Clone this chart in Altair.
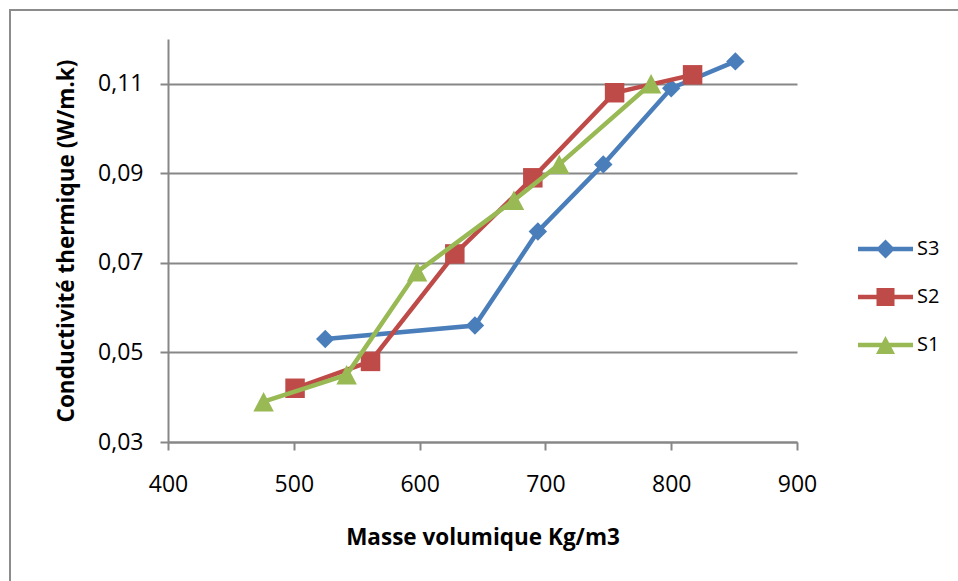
import altair as alt
import pandas as pd

# ---- data ----
series_names = ["S3", "S2", "S1"]
s3_x = [525, 644, 694, 746, 800, 851]
s3_y = [0.053, 0.056, 0.077, 0.092, 0.109, 0.115]
s2_x = [501, 561, 628, 690, 755, 817]
s2_y = [0.042, 0.048, 0.072, 0.089, 0.108, 0.112]
s1_x = [476, 542, 598, 675, 711, 784]
s1_y = [0.039, 0.045, 0.068, 0.084, 0.092, 0.110]

x_ticks = [400, 500, 600, 700, 800, 900]
y_ticks = [0.03, 0.05, 0.07, 0.09, 0.11]

colors = ["#4A7EBB", "#BE4B48", "#98B954"]
x_title = "Masse volumique Kg/m3"
y_title = "Conductivité thermique (W/m.k)"

FONT = "Open Sans"
GRAY = "#878787"

xs = {"S3": s3_x, "S2": s2_x, "S1": s1_x}
ys = {"S3": s3_y, "S2": s2_y, "S1": s1_y}

frames = []
for name in series_names:
    frames.append(pd.DataFrame({"x": xs[name], "y": ys[name], "series": name}))
df_all = pd.concat(frames, ignore_index=True)

x_enc = alt.X(
    "x:Q",
    scale=alt.Scale(domain=[400, 900], nice=False, zero=False),
    axis=alt.Axis(
        values=x_ticks, grid=False, title=x_title, labelFlush=False,
        domainColor=GRAY, domainWidth=2, tickColor=GRAY, tickWidth=2, tickSize=8,
        labelFont=FONT, labelFontSize=23, labelColor="#000000", labelPadding=23,
        titleFont=FONT, titleFontSize=22.5, titleFontWeight="bold", titleColor="#000000",
        titleY=102, titleBaseline="alphabetic",
    ),
)
y_enc = alt.Y(
    "y:Q",
    scale=alt.Scale(domain=[0.03, 0.12], nice=False, zero=False),
    axis=alt.Axis(
        values=y_ticks, grid=True, gridColor=GRAY, gridWidth=2, title=y_title,
        labelExpr="replace(format(datum.value, '.2f'), '.', ',')", labelFlush=False,
        domainColor=GRAY, domainWidth=2, tickColor=GRAY, tickWidth=2, tickSize=8,
        labelFont=FONT, labelFontSize=23, labelColor="#000000", labelPadding=17,
        titleFont=FONT, titleFontSize=22.5, titleFontWeight="bold", titleColor="#000000",
        titleX=-102, titleBaseline="middle",
    ),
)

marker_shape = {
    "S3": "diamond",
    "S2": "square",
    "S1": "M0,-0.95L1,0.95L-1,0.95Z",
}
marker_size = {"S3": 340, "S2": 380, "S1": 420}

# legend symbols: line segment + marker (unit = 10 px)
legend_paths = [
    "M-1,-0.22H4.5V0.22H-1Z M1.75,-0.95L2.7,0L1.75,0.95L0.8,0Z",
    "M-1,-0.22H4.5V0.22H-1Z M0.85,-0.9H2.65V0.9H0.85Z",
    "M-1,-0.22H4.5V0.22H-1Z M1.75,-0.9L2.7,0.9H0.8Z",
]

# outer border
border = alt.Chart(alt.Data(values=[{}])).mark_rect(
    fill="transparent", stroke="#8c8c8c", strokeWidth=2
).encode(
    x=alt.value(-158), x2=alt.value(830), y=alt.value(-29), y2=alt.value(600)
)

layers = [border]
for name, col in zip(series_names, colors):
    d = df_all[df_all["series"] == name]
    line = alt.Chart(d).mark_line(color=col, strokeWidth=4.5).encode(x=x_enc, y=y_enc)
    pts = alt.Chart(d).mark_point(
        filled=True, color=col, opacity=1, shape=marker_shape[name],
        size=marker_size[name], strokeWidth=0,
    ).encode(x=x_enc, y=y_enc)
    layers += [line, pts]

leg = alt.Legend(
    title=None, orient="none", legendX=690, legendY=200,
    symbolSize=400, symbolOpacity=1, symbolStrokeWidth=0,
    labelFont=FONT, labelFontSize=20, labelColor="#000000",
    labelOffset=39, rowPadding=28, padding=0,
)
legend_layer = alt.Chart(df_all).mark_point(filled=True, opacity=0).encode(
    x=x_enc,
    y=y_enc,
    color=alt.Color("series:N", scale=alt.Scale(domain=series_names, range=colors), legend=leg),
    shape=alt.Shape("series:N", scale=alt.Scale(domain=series_names, range=legend_paths), legend=leg),
)
layers.append(legend_layer)

chart = alt.layer(*layers).properties(
    width=629,
    height=403,
    autosize=alt.AutoSizeParams(type="none"),
    padding={"left": 168, "top": 39, "right": 161, "bottom": 139},
    background="white",
).configure_view(stroke="transparent")

chart.save("out.html", embed_options={"renderer": "svg", "actions": False})
